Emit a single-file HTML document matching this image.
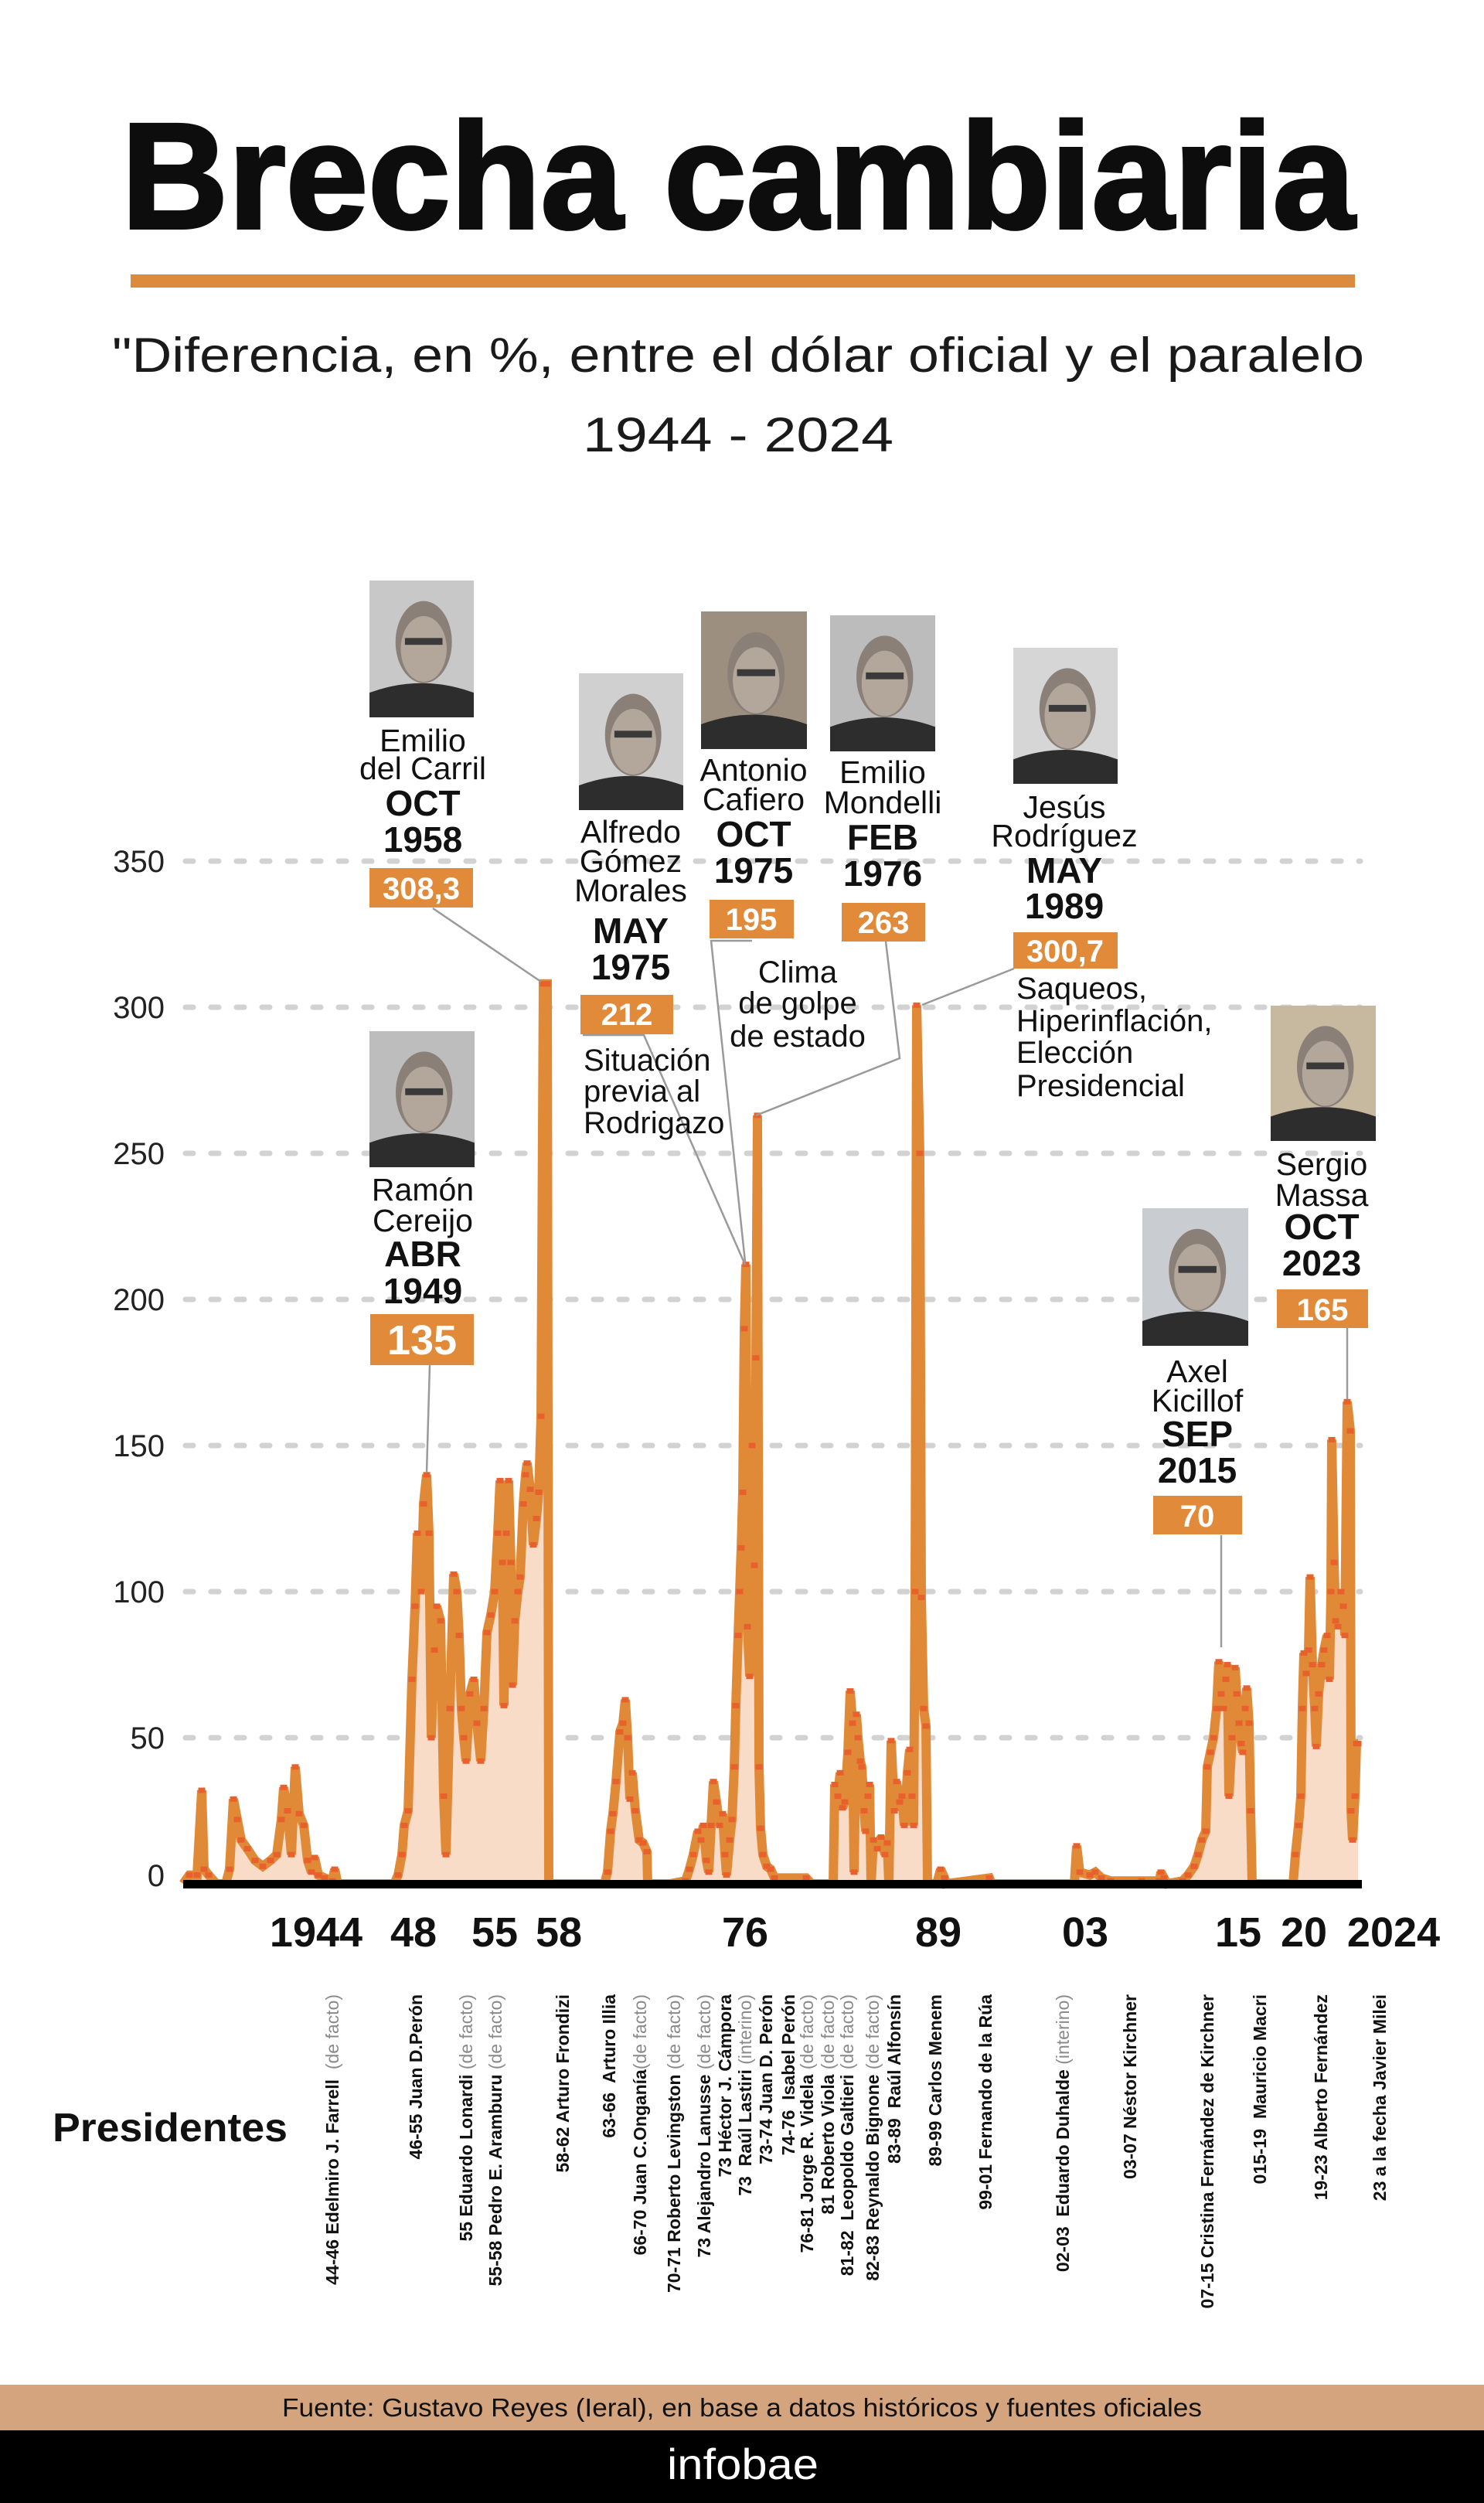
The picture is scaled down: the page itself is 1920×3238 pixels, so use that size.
<!DOCTYPE html>
<html><head><meta charset="utf-8">
<style>
html,body{margin:0;padding:0;background:#fff;}
svg{display:block;}
text{font-family:"Liberation Sans",sans-serif;}
.nm{font-size:41px;fill:#111;text-anchor:middle;}
.bd{font-size:46px;font-weight:bold;fill:#111;text-anchor:middle;}
.bx{font-size:40px;font-weight:bold;fill:#fff;text-anchor:middle;}
.note{font-size:40px;fill:#111;}
.yl{font-size:40px;fill:#222;text-anchor:end;}
.yr{font-size:54px;font-weight:bold;fill:#111;text-anchor:middle;}
.pr{font-size:23px;font-weight:bold;fill:#111;text-anchor:end;}
.pr tspan.g{font-weight:normal;fill:#8a8a8a;}
.cn{stroke:#9a9a9a;stroke-width:2.5;fill:none;}
</style></head>
<body>
<svg id="s" width="1920" height="3238" viewBox="0 0 1920 3238" xmlns="http://www.w3.org/2000/svg">
<rect width="1920" height="3238" fill="#fff"/>
<text x="157" y="295" font-size="195" font-weight="bold" fill="#0d0d0d" stroke="#0d0d0d" stroke-width="4" textLength="1596" lengthAdjust="spacingAndGlyphs">Brecha cambiaria</text>
<rect x="169" y="355" width="1584" height="17" fill="#dc8a3c"/>
<text x="145" y="481" font-size="63" fill="#1a1a1a" textLength="1620" lengthAdjust="spacingAndGlyphs">"Diferencia, en %, entre el dólar oficial y el paralelo</text>
<text x="754" y="584" font-size="63" fill="#1a1a1a" textLength="402" lengthAdjust="spacingAndGlyphs">1944 - 2024</text>

<g id="grid" stroke="#d2d2d2" stroke-width="7" stroke-linecap="round" stroke-dasharray="10 23">
<line x1="240" x2="1760" y1="1114" y2="1114"/>
<line x1="240" x2="1760" y1="1303" y2="1303"/>
<line x1="240" x2="1760" y1="1492" y2="1492"/>
<line x1="240" x2="1760" y1="1681" y2="1681"/>
<line x1="240" x2="1760" y1="1870" y2="1870"/>
<line x1="240" x2="1760" y1="2059" y2="2059"/>
<line x1="240" x2="1760" y1="2248" y2="2248"/>
</g>
<g>
<text class="yl" x="213" y="1128">350</text>
<text class="yl" x="213" y="1317">300</text>
<text class="yl" x="213" y="1506">250</text>
<text class="yl" x="213" y="1695">200</text>
<text class="yl" x="213" y="1884">150</text>
<text class="yl" x="213" y="2073">100</text>
<text class="yl" x="213" y="2262">50</text>
<text class="yl" x="213" y="2440">0</text>
</g>

<g id="chart"></g>
<rect x="237" y="2432" width="1525" height="11" fill="#000"/>

<polyline class="cn" points="560,1175 700,1270"/>
<line class="cn" x1="556" y1="1766" x2="552" y2="1905"/>
<polyline class="cn" points="754,1339 833,1339 964,1636"/>
<polyline class="cn" points="973,1217 920,1217 964,1632"/>
<polyline class="cn" points="1146,1218 1164,1369 978,1443"/>
<polyline class="cn" points="1193,1300 1312,1253"/>
<line class="cn" x1="1580" y1="1986" x2="1580" y2="2131"/>
<line class="cn" x1="1743" y1="1718" x2="1743" y2="1810"/>

<g id="photos"></g>

<text class="nm" x="547" y="972">Emilio</text>
<text class="nm" x="547" y="1008">del Carril</text>
<text class="bd" x="547" y="1055">OCT</text>
<text class="bd" x="547" y="1102">1958</text>
<rect x="478" y="1123" width="134" height="51" fill="#e08a3a"/>
<text class="bx" x="545" y="1163">308,3</text>

<text class="nm" x="547" y="1553">Ramón</text>
<text class="nm" x="547" y="1593">Cereijo</text>
<text class="bd" x="547" y="1638">ABR</text>
<text class="bd" x="547" y="1686">1949</text>
<rect x="479" y="1700" width="134" height="66" fill="#e08a3a"/>
<text class="bx" x="546" y="1752" style="font-size:54px">135</text>

<text class="nm" x="816" y="1090">Alfredo</text>
<text class="nm" x="816" y="1128">Gómez</text>
<text class="nm" x="816" y="1166">Morales</text>
<text class="bd" x="816" y="1220">MAY</text>
<text class="bd" x="816" y="1267">1975</text>
<rect x="751" y="1287" width="120" height="51" fill="#e08a3a"/>
<text class="bx" x="811" y="1326">212</text>

<text class="nm" x="975" y="1010">Antonio</text>
<text class="nm" x="975" y="1048">Cafiero</text>
<text class="bd" x="975" y="1095">OCT</text>
<text class="bd" x="975" y="1142">1975</text>
<rect x="918" y="1164" width="109" height="50" fill="#e08a3a"/>
<text class="bx" x="972" y="1203">195</text>

<text class="nm" x="1142" y="1013">Emilio</text>
<text class="nm" x="1142" y="1052">Mondelli</text>
<text class="bd" x="1142" y="1099">FEB</text>
<text class="bd" x="1142" y="1146">1976</text>
<rect x="1089" y="1168" width="108" height="50" fill="#e08a3a"/>
<text class="bx" x="1143" y="1207">263</text>

<text class="nm" x="1377" y="1058">Jesús</text>
<text class="nm" x="1377" y="1095">Rodríguez</text>
<text class="bd" x="1377" y="1142">MAY</text>
<text class="bd" x="1377" y="1188">1989</text>
<rect x="1311" y="1206" width="135" height="47" fill="#e08a3a"/>
<text class="bx" x="1378" y="1244">300,7</text>

<text class="nm" x="1710" y="1520">Sergio</text>
<text class="nm" x="1710" y="1560">Massa</text>
<text class="bd" x="1710" y="1603">OCT</text>
<text class="bd" x="1710" y="1650">2023</text>
<rect x="1652" y="1668" width="118" height="50" fill="#e08a3a"/>
<text class="bx" x="1711" y="1708">165</text>

<text class="nm" x="1549" y="1788">Axel</text>
<text class="nm" x="1549" y="1826">Kicillof</text>
<text class="bd" x="1549" y="1871">SEP</text>
<text class="bd" x="1549" y="1918">2015</text>
<rect x="1492" y="1935" width="115" height="50" fill="#e08a3a"/>
<text class="bx" x="1549" y="1975">70</text>

<text class="note" x="755" y="1385">Situación</text>
<text class="note" x="755" y="1425">previa al</text>
<text class="note" x="755" y="1466">Rodrigazo</text>
<text class="note" x="1032" y="1271" text-anchor="middle">Clima</text>
<text class="note" x="1032" y="1311" text-anchor="middle">de golpe</text>
<text class="note" x="1032" y="1354" text-anchor="middle">de estado</text>
<text class="note" x="1315" y="1292">Saqueos,</text>
<text class="note" x="1315" y="1334">Hiperinflación,</text>
<text class="note" x="1315" y="1375">Elección</text>
<text class="note" x="1315" y="1418">Presidencial</text>

<text class="yr" x="409" y="2518">1944</text>
<text class="yr" x="535" y="2518">48</text>
<text class="yr" x="640" y="2518">55</text>
<text class="yr" x="723" y="2518">58</text>
<text class="yr" x="964" y="2518">76</text>
<text class="yr" x="1214" y="2518">89</text>
<text class="yr" x="1404" y="2518">03</text>
<text class="yr" x="1602" y="2518">15</text>
<text class="yr" x="1687" y="2518">20</text>
<text class="yr" x="1803" y="2518">2024</text>

<text x="68" y="2770" font-size="52" font-weight="bold" fill="#111" textLength="304" lengthAdjust="spacingAndGlyphs">Presidentes</text>
<g id="pres"></g>

<rect x="0" y="3085" width="1920" height="59" fill="#d4a47e"/>
<text x="960" y="3126" font-size="33" fill="#111" text-anchor="middle" textLength="1190" lengthAdjust="spacingAndGlyphs">Fuente: Gustavo Reyes (Ieral), en base a datos históricos y fuentes oficiales</text>
<rect x="0" y="3144" width="1920" height="94" fill="#000"/>
<text x="961" y="3207" font-size="56" fill="#fff" text-anchor="middle" textLength="196" lengthAdjust="spacingAndGlyphs">infobae</text>
</svg>
<script>
(function(){
var NS="http://www.w3.org/2000/svg";
function el(t,a,p){var e=document.createElementNS(NS,t);for(var k in a)e.setAttribute(k,a[k]);(p||document.getElementById('chart')).appendChild(e);return e;}
var d=[[237,0],[245,3],[255,3],[261,32],[264,5],[270,3],[280,0],[292,0],[297,5],[302,29],[307,22],[312,15],[320,12],[330,8],[340,6],[350,8],[358,10],[364,22],[367,33],[372,25],[377,10],[382,40],[387,24],[393,20],[398,8],[403,4],[407,9],[412,3],[420,2],[430,1],[433,5],[437,0],[510,0],[515,3],[520,10],[523,20],[528,25],[533,70],[537,95],[540,120],[545,100],[548,130],[552,140],[555,120],[558,50],[562,80],[565,95],[570,90],[574,30],[577,10],[582,60],[587,106],[591,100],[594,85],[597,60],[600,50],[603,42],[608,65],[613,70],[617,55],[622,42],[626,60],[630,86],[635,92],[640,100],[644,120],[647,138],[650,110],[652,61],[655,120],[658,138],[661,110],[663,68],[666,90],[670,100],[673,105],[677,130],[680,140],[682,144],[686,135],[690,116],[694,125],[697,134],[700,160],[703,308],[708,308],[710,0],
[782,0],[786,4],[790,18],[793,24],[797,35],[802,52],[806,55],[809,63],[812,50],[815,29],[818,38],[822,25],[827,15],[832,14],[837,11],[838,0],[867,0],[887,1],[892,5],[897,10],[903,18],[907,15],[910,20],[914,8],[917,4],[920,20],[923,35],[927,28],[931,20],[935,24],[938,10],[940,3],[944,15],[947,22],[950,40],[952,61],[955,85],[957,100],[959,115],[961,134],[963,190],[965,212],[967,88],[970,71],[973,150],[976,109],[978,180],[980,263],[982,40],[984,19],[987,10],[992,6],[997,5],[1002,2],[1043,2],[1050,0],[1078,0],[1080,34],[1084,30],[1087,38],[1090,26],[1093,28],[1097,45],[1100,66],[1103,55],[1105,4],[1108,58],[1110,50],[1113,42],[1115,40],[1118,25],[1120,18],[1123,30],[1125,34],[1127,0],[1130,15],[1135,12],[1140,16],[1145,10],[1148,14],[1150,0],[1153,49],[1157,25],[1160,35],[1164,28],[1167,30],[1170,20],[1174,38],[1177,46],[1180,30],[1182,20],[1184,100],[1186,300.7],[1190,250],[1192,98],[1195,60],[1198,54],[1200,0],[1212,0],[1217,5],[1222,2],[1224,0],
[1280,2],[1283,0],[1390,0],[1393,13],[1397,4],[1410,3],[1417,4],[1425,2],[1437,1],[1477,1],[1500,1],[1502,4],[1506,2],[1510,0],[1530,1],[1537,3],[1545,6],[1550,10],[1555,15],[1560,18],[1562,40],[1566,45],[1570,50],[1574,60],[1577,76],[1580,65],[1583,60],[1586,70],[1588,75],[1590,30],[1594,50],[1598,74],[1600,65],[1603,55],[1606,48],[1608,45],[1611,60],[1613,67],[1616,55],[1618,25],[1620,0],[1673,0],[1676,10],[1680,20],[1683,30],[1685,60],[1687,79],[1690,72],[1693,80],[1695,105],[1698,75],[1701,60],[1703,47],[1706,65],[1710,75],[1713,80],[1717,85],[1720,70],[1722,100],[1723,152],[1726,110],[1728,90],[1731,88],[1735,100],[1738,95],[1740,85],[1743,165],[1747,155],[1748,25],[1750,15],[1753,30],[1755,48],[1757,48]];
function Y(v){return 2437-3.78*v;}
var pts=d.map(function(p){return p[0]+","+Y(p[1]).toFixed(1);}).join(" ");
el('polygon',{points:"237,2437 "+pts+" 1757,2437",fill:"#f8dcc8"});
el('polyline',{points:pts,fill:"none",stroke:"#e08a38","stroke-width":12,"stroke-linejoin":"miter","stroke-miterlimit":2});
d.forEach(function(p){ if(p[1]>0.5) el('rect',{x:p[0]-4.5,y:Y(p[1])-3.5,width:9,height:7,fill:"#e8602c"});});
var ph=[[478,751,135,177,"#c8c8c8"],[478,1334,136,176,"#bdbdbd"],[749,871,135,177,"#d0d0d0"],[907,791,137,178,"#9c8f80"],[1074,796,136,176,"#bcbcbc"],[1311,838,135,176,"#d6d6d6"],[1644,1301,136,175,"#c7b8a0"],[1478,1563,137,178,"#c9ccd0"]];
var g=document.getElementById('photos');
ph.forEach(function(p){var x=p[0],y=p[1],w=p[2],h=p[3];
el('rect',{x:x,y:y,width:w,height:h,fill:p[4]},g);
el('path',{d:"M"+x+","+(y+h)+" L"+x+","+(y+h*0.82)+" Q"+(x+w*0.5)+","+(y+h*0.68)+" "+(x+w)+","+(y+h*0.82)+" L"+(x+w)+","+(y+h)+" Z",fill:"#2d2d2d"},g);
el('ellipse',{cx:x+w*0.52,cy:y+h*0.45,rx:w*0.27,ry:h*0.3,fill:"#8a8078"},g);
el('ellipse',{cx:x+w*0.52,cy:y+h*0.5,rx:w*0.22,ry:h*0.24,fill:"#b3a79c"},g);
el('rect',{x:x+w*0.34,y:y+h*0.42,width:w*0.36,height:h*0.05,fill:"#3a3a3a"},g);
});
var pr=[[429,"44-46 Edelmiro J. Farrell  ","(de facto)"],[537,"46-55 Juan D.Perón",""],[602,"55 Eduardo Lonardi ","(de facto)"],[640,"55-58 Pedro E. Aramburu ","(de facto)"],[727,"58-62 Arturo Frondizi",""],[787,"63-66  Arturo Illia",""],[827,"66-70 Juan C.Onganía","(de facto)"],[871,"70-71 Roberto Levingston ","(de facto)"],[910,"73 Alejandro Lanusse ","(de facto)"],[937,"73 Héctor J. Cámpora",""],[963,"73  Raúl Lastiri ","(interino)"],[990,"73-74 Juan D. Perón",""],[1019,"74-76  Isabel Perón",""],[1043,"76-81 Jorge R. Videla ","(de facto)"],[1070,"81 Roberto Viola ","(de facto)"],[1095,"81-82  Leopoldo Galtieri ","(de facto)"],[1128,"82-83 Reynaldo Bignone ","(de facto)"],[1156,"83-89  Raúl Alfonsín",""],[1209,"89-99 Carlos Menem",""],[1274,"99-01 Fernando de la Rúa",""],[1374,"02-03  Eduardo Duhalde ","(interino)"],[1461,"03-07 Néstor Kirchner",""],[1561,"07-15 Cristina Fernández de Kirchner",""],[1629,"015-19  Mauricio Macri",""],[1708,"19-23 Alberto Fernández",""],[1784,"23 a la fecha Javier Milei",""]];
var pg=document.getElementById('pres');
pr.forEach(function(p){var x=p[0]+9,y=2580;
var t=el('text',{"class":"pr",x:0,y:0,transform:"translate("+x+","+y+") rotate(-90)"},pg);
t.setAttribute("style","white-space:pre");
var a=document.createElementNS(NS,'tspan');a.textContent=p[1];t.appendChild(a);
if(p[2]){var b=document.createElementNS(NS,'tspan');b.setAttribute("class","g");b.textContent=p[2];t.appendChild(b);}
});
})();
</script>
</body></html>
